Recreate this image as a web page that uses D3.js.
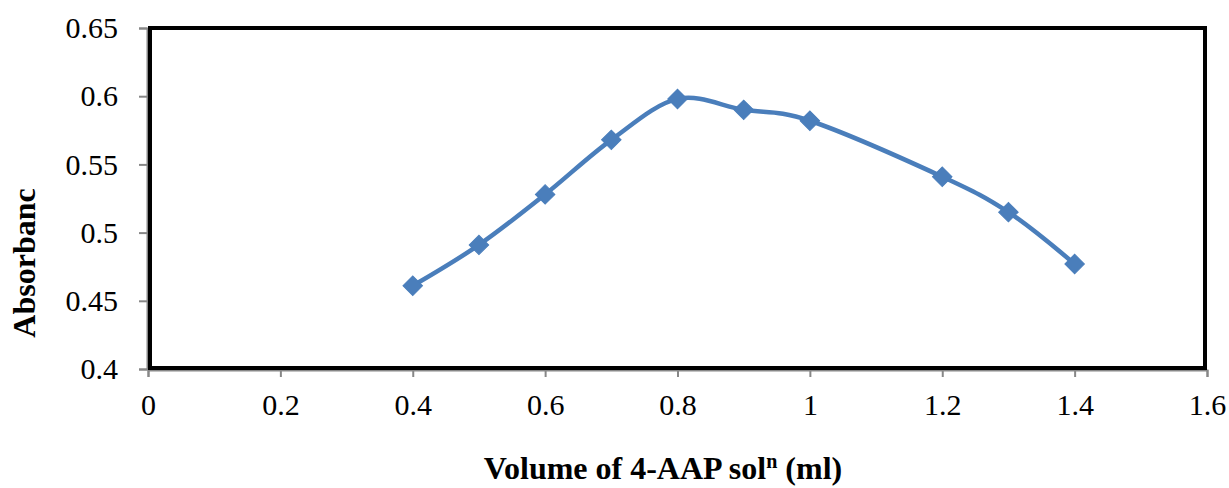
<!DOCTYPE html>
<html>
<head>
<meta charset="utf-8">
<script src="https://cdn.jsdelivr.net/npm/d3@7"></script>
<style>
  body { margin: 0; background: #fff; }
  svg { display: block; font-family: "Liberation Serif", "Times New Roman", serif; }
</style>
</head>
<body>
<div class="chart"></div>
<script>
// data
const volume = [0.4, 0.5, 0.6, 0.7, 0.8, 0.9, 1.0, 1.2, 1.3, 1.4];
const absorbance = [0.461, 0.491, 0.528, 0.568, 0.598, 0.590, 0.582, 0.541, 0.515, 0.477];
const xTicks = [0, 0.2, 0.4, 0.6, 0.8, 1, 1.2, 1.4, 1.6];
const yTicks = [0.4, 0.45, 0.5, 0.55, 0.6, 0.65];

const width = 1229, height = 488;
const plot = { left: 148, right: 1207, top: 28, bottom: 369 };

const data = volume.map((v, i) => ({ x: v, y: absorbance[i] }));

const xScale = d3.scaleLinear().domain([0, 1.6]).range([plot.left, plot.right]);
const yScale = d3.scaleLinear().domain([0.4, 0.65]).range([plot.bottom, plot.top]);

const svg = d3.select(".chart")
	.append("svg")
	.attr("width", width)
	.attr("height", height);

// axes (grey, ticks outside)
const xAxis = d3.axisBottom(xScale).tickValues(xTicks).tickSize(7).tickPadding(17)
	.tickFormat((d) => String(d));
svg.append("g")
	.attr("class", "axis x-axis")
	.attr("transform", `translate(0, ${plot.bottom + 1})`)
	.call(xAxis);

const yAxis = d3.axisLeft(yScale).tickValues(yTicks).tickSize(8).tickPadding(21)
	.tickFormat((d) => String(d));
svg.append("g")
	.attr("class", "axis y-axis")
	.attr("transform", `translate(${plot.left - 1}, 0)`)
	.call(yAxis);

svg.selectAll(".axis path, .axis line")
	.attr("stroke", "#878787")
	.attr("stroke-width", 2);
svg.selectAll(".axis text")
	.attr("fill", "#000")
	.style("font-size", "30px")
	.style("font-family", "'Liberation Serif', serif");

// black plot-area border
svg.append("rect")
	.attr("x", plot.left + 2)
	.attr("y", plot.top)
	.attr("width", plot.right - plot.left - 4)
	.attr("height", plot.bottom - plot.top - 1)
	.attr("fill", "none")
	.attr("stroke", "#000")
	.attr("stroke-width", 4);

// smoothed line
const line = d3.line()
	.x((d) => xScale(d.x))
	.y((d) => yScale(d.y))
	.curve(d3.curveCardinal.tension(0));

svg.append("path")
	.datum(data)
	.attr("d", line)
	.attr("fill", "none")
	.attr("stroke", "#4a7ebb")
	.attr("stroke-width", 4.5)
	.attr("stroke-linejoin", "round");

// diamond markers
const diamond = d3.symbol().type(d3.symbolSquare).size(190);
svg.selectAll(".marker")
	.data(data)
	.enter()
	.append("path")
	.attr("class", "marker")
	.attr("d", diamond)
	.attr("transform", (d) => `translate(${xScale(d.x)}, ${yScale(d.y)}) rotate(45)`)
	.attr("fill", "#4a7ebb")
	.attr("stroke", "#4a7ebb")
	.attr("stroke-width", 1);

// axis titles
svg.append("text")
	.attr("transform", "translate(35, 263) rotate(-90)")
	.attr("text-anchor", "middle")
	.style("font-size", "32px")
	.style("font-weight", "bold")
	.text("Absorbanc");

const xt = svg.append("text")
	.attr("x", 663)
	.attr("y", 479)
	.attr("text-anchor", "middle")
	.style("font-size", "32px")
	.style("font-weight", "bold");
xt.append("tspan").text("Volume of 4-AAP sol");
xt.append("tspan").attr("dy", -11).style("font-size", "20px").text("n");
xt.append("tspan").attr("dy", 11).text(" (ml)");
</script>
</body>
</html>
